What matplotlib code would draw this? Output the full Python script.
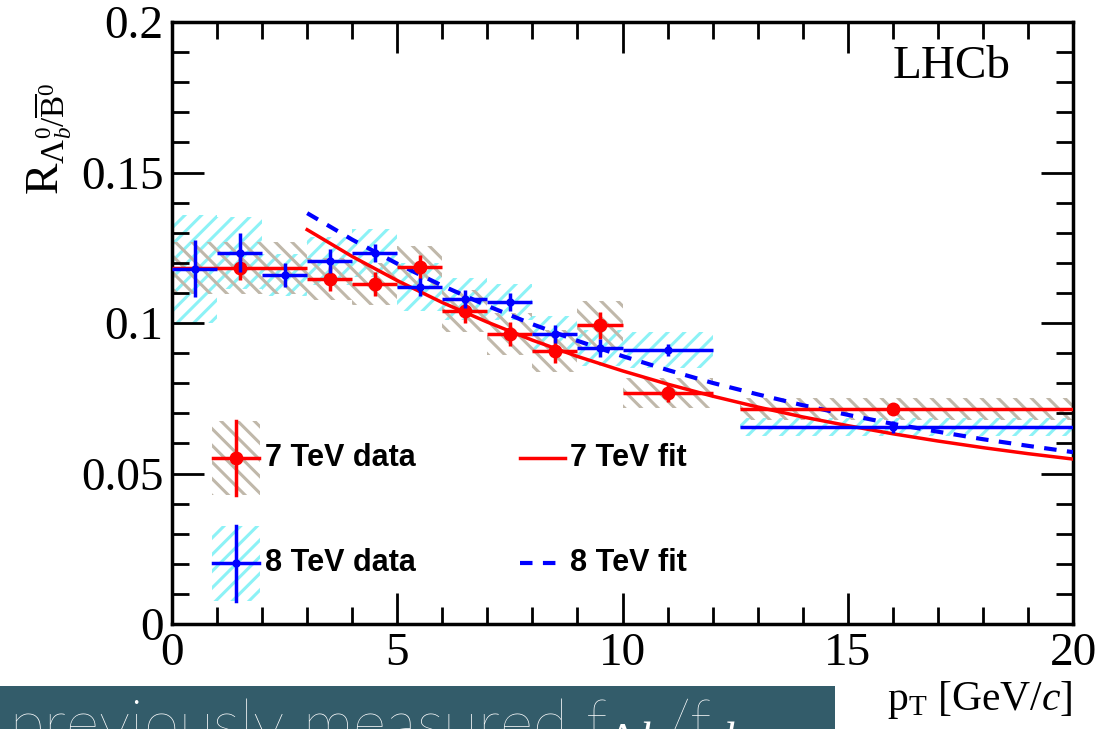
import matplotlib
matplotlib.use("Agg")
import matplotlib.pyplot as plt
from matplotlib.patches import Rectangle
from matplotlib.ticker import MultipleLocator, FuncFormatter
import numpy as np

# 7 TeV data (red)
x7 = [1.5, 3.5, 4.5, 5.5, 6.5, 7.5, 8.5, 9.5, 11.0, 16.0]
lo7 = [0.0, 3.0, 4.0, 5.0, 6.0, 7.0, 8.0, 9.0, 10.0, 12.6]
hi7 = [3.0, 4.0, 5.0, 6.0, 7.0, 8.0, 9.0, 10.0, 12.0, 20.0]
y7 = [0.1183, 0.1146, 0.1130, 0.1186, 0.1040, 0.0963, 0.0907, 0.0993, 0.0767, 0.0714]
stat7 = [0.004, 0.004, 0.004, 0.004, 0.004, 0.004, 0.004, 0.0045, 0.003, 0.002]
syst7 = [0.0087, 0.007, 0.007, 0.007, 0.007, 0.007, 0.007, 0.008, 0.005, 0.0037]

# 8 TeV data (blue)
x8 = [0.5, 1.5, 2.5, 3.5, 4.5, 5.5, 6.5, 7.5, 8.5, 9.5, 11.0, 16.0]
lo8 = [0.0, 1.0, 2.0, 3.0, 4.0, 5.0, 6.0, 7.0, 8.0, 9.0, 10.0, 12.6]
hi8 = [1.0, 2.0, 3.0, 4.0, 5.0, 6.0, 7.0, 8.0, 9.0, 10.0, 12.0, 20.0]
y8 = [0.1180, 0.1233, 0.1160, 0.1206, 0.1232, 0.1120, 0.1080, 0.1070, 0.0963, 0.0917, 0.0910, 0.0654]
stat8 = [0.0095, 0.0065, 0.004, 0.004, 0.003, 0.003, 0.003, 0.003, 0.003, 0.003, 0.002, 0.002]
syst8 = [0.018, 0.012, 0.007, 0.008, 0.008, 0.008, 0.007, 0.006, 0.006, 0.006, 0.006, 0.003]

# fit curves
xfit = [3, 4, 5, 6, 7, 8, 9, 10, 11, 12, 13, 14, 15, 16, 17, 18, 19, 20]
fit7 = [0.1310, 0.1221, 0.1141, 0.1068, 0.1003, 0.0943, 0.0889, 0.0841, 0.0797,
        0.0757, 0.0721, 0.0688, 0.0659, 0.0632, 0.0608, 0.0586, 0.0566, 0.0548]
fit8 = [0.1365, 0.1277, 0.1197, 0.1124, 0.1057, 0.0996, 0.0941, 0.0890, 0.0844,
        0.0801, 0.0763, 0.0727, 0.0695, 0.0665, 0.0639, 0.0614, 0.0592, 0.0571]

RED = "#ff0000"
BLUE = "#0000ff"
GREY_H = "#c0b8aa"
CYAN_H = "#8cf2f6"

plt.rcParams["hatch.linewidth"] = 2.2
plt.rcParams["mathtext.fontset"] = "custom"
plt.rcParams["mathtext.rm"] = "Liberation Serif"
plt.rcParams["mathtext.it"] = "Liberation Serif:italic"

fig = plt.figure(figsize=(11.07, 7.29), dpi=100)
ax = fig.add_axes([0.1554, 0.144, 0.8139, 0.8258])

lo7a, hi7a, x7a, y7a = map(np.array, (lo7, hi7, x7, y7))
lo8a, hi8a, x8a, y8a = map(np.array, (lo8, hi8, x8, y8))

# systematic hatched boxes
ax.bar((lo8a + hi8a) / 2, 2 * np.array(syst8), bottom=y8a - np.array(syst8),
       width=hi8a - lo8a, fill=False, hatch="//", edgecolor=CYAN_H, linewidth=0, zorder=1)
ax.bar((lo7a + hi7a) / 2, 2 * np.array(syst7), bottom=y7a - np.array(syst7),
       width=hi7a - lo7a, fill=False, hatch="\\\\", edgecolor=GREY_H, linewidth=0, zorder=1)

# fits
ax.plot(xfit, fit7, color=RED, lw=2.5, zorder=3)
ax.plot(xfit, fit8, color=BLUE, lw=3, ls=(0, (3, 2.5)), zorder=3)

# data points
ax.errorbar(x7, y7, xerr=[x7a - lo7a, hi7a - x7a], yerr=stat7, fmt="o", color=RED,
            ms=9, elinewidth=2.5, capsize=0, zorder=4)
ax.errorbar(x8, y8, xerr=[x8a - lo8a, hi8a - x8a], yerr=stat8, fmt="o", color=BLUE,
            ms=5, elinewidth=2.5, capsize=0, zorder=5)

ax.set_xlim(0, 20)
ax.set_ylim(0, 0.2)
ax.xaxis.set_major_locator(MultipleLocator(5))
ax.xaxis.set_minor_locator(MultipleLocator(1))
ax.yaxis.set_major_locator(MultipleLocator(0.05))
ax.yaxis.set_minor_locator(MultipleLocator(0.01))
ax.xaxis.set_major_formatter(FuncFormatter(lambda v, p: "%g" % v))
ax.yaxis.set_major_formatter(FuncFormatter(lambda v, p: "%g" % round(v, 3)))
ax.tick_params(which="both", direction="in", top=True, right=True, width=2)
ax.tick_params(which="major", length=23)
ax.tick_params(which="minor", length=12)
ax.tick_params(axis="x", which="major", length=22, pad=6)
ax.tick_params(axis="y", which="major", pad=6)
for lab in ax.get_xticklabels() + ax.get_yticklabels():
    lab.set_fontfamily("Liberation Serif")
    lab.set_fontsize(34)
for s in ax.spines.values():
    s.set_linewidth(2.5)

ax.text(0.80, 0.907, "LHCb", transform=ax.transAxes, fontsize=34,
        family="Liberation Serif", ha="left", va="baseline")

# legend drawn by hand
leg = [(0.276, RED, GREY_H, "\\\\", 9, "7 TeV data"),
       (0.101, BLUE, CYAN_H, "//", 5, "8 TeV data")]
for yc, col, hcol, hat, ms, lab in leg:
    ax.add_patch(Rectangle((0.044, yc - 0.062), 0.054, 0.124, transform=ax.transAxes,
                           fill=False, hatch=hat, edgecolor=hcol, linewidth=0))
    ax.plot([0.071, 0.071], [yc - 0.062, yc + 0.062], color=col, lw=2.5, transform=ax.transAxes)
    ax.plot([0.046, 0.097], [yc, yc], color=col, lw=2.5, transform=ax.transAxes)
    ax.plot([0.071], [yc], "o", color=col, ms=ms, transform=ax.transAxes)
    ax.text(0.103, yc, lab, transform=ax.transAxes, fontsize=22, weight="bold",
            family="Liberation Sans", va="center", ha="left")
ax.plot([0.386, 0.436], [0.276, 0.276], color=RED, lw=2.5, transform=ax.transAxes)
ax.plot([0.386, 0.436], [0.101, 0.101], color=BLUE, lw=3, ls=(0, (3, 2.5)), transform=ax.transAxes)
ax.text(0.442, 0.276, "7 TeV fit", transform=ax.transAxes, fontsize=22, weight="bold",
        family="Liberation Sans", va="center", ha="left")
ax.text(0.442, 0.101, "8 TeV fit", transform=ax.transAxes, fontsize=22, weight="bold",
        family="Liberation Sans", va="center", ha="left")

# axis titles
fig.text(0.969, 0.040, r"$\mathrm{p}_{\mathrm{T}}$ [GeV/$c$]", fontsize=30,
         family="Liberation Serif", ha="right", va="center")
fig.text(0.045, 0.81, r"$\mathrm{R}_{\Lambda_b^0/\overline{\mathrm{B}}^0}$", fontsize=34,
         rotation=90, ha="center", va="center")

# slide banner at the bottom (its text is cut by the image edge, as in the slide)
fig.patches.append(Rectangle((0, 0), 835 / 1107, 43 / 729, transform=fig.transFigure,
                             facecolor="#335c6a", edgecolor="none"))
fig.text(0.008, -0.022, r"previously measured f$_{\Lambda b}$/f$_{d}$", fontsize=46,
         color="white", family="Lato", weight="light", ha="left", va="baseline")

fig.savefig("out.png", dpi=100)
